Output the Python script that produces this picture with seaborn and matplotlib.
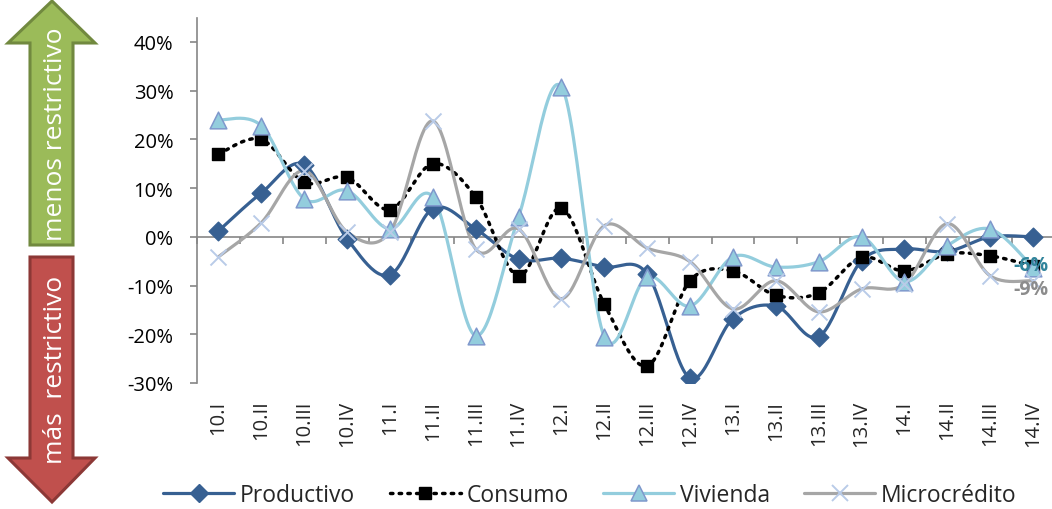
import numpy as np
import pandas as pd
import matplotlib
matplotlib.use("Agg")
import matplotlib.pyplot as plt
from matplotlib.patches import Polygon
from matplotlib.lines import Line2D
from matplotlib.ticker import PercentFormatter
import seaborn as sns

# ---- data (percent) ----
categories = ['10.I', '10.II', '10.III', '10.IV', '11.I', '11.II', '11.III', '11.IV',
              '12.I', '12.II', '12.III', '12.IV', '13.I', '13.II', '13.III', '13.IV',
              '14.I', '14.II', '14.III', '14.IV']
productivo = [1.2, 9.0, 14.8, -0.4, -7.8, 5.8, 1.6, -4.6, -4.4, -6.2, -7.6, -29.0,
              -16.8, -14.2, -20.5, -4.9, -2.5, -3.0, 0.0, 0.0]
consumo = [17.0, 20.0, 11.2, 12.2, 5.6, 15.0, 8.2, -8.0, 5.9, -13.8, -26.5, -9.0,
           -7.0, -12.0, -11.5, -4.2, -7.0, -3.5, -3.9, -6.0]
vivienda = [24.0, 22.8, 7.8, 9.5, 1.6, 8.2, -20.3, 4.1, 30.8, -20.5, -8.2, -14.2,
            -4.1, -6.2, -5.1, 0.0, -9.2, -1.8, 1.6, -6.3]
microcredito = [-4.1, 2.9, 13.6, 1.0, 1.0, 23.8, -2.5, 1.6, -12.7, 2.3, -2.3, -5.1,
                -14.8, -9.0, -15.4, -10.7, -9.7, 2.7, -8.0, -9.0]
series_names = ['Productivo', 'Consumo', 'Vivienda', 'Microcrédito']
yticks = [-30, -20, -10, 0, 10, 20, 30, 40]

sns.set_theme(style="white")
plt.rcParams['font.family'] = ['Open Sans', 'DejaVu Sans']
plt.rcParams['axes.unicode_minus'] = False

W, H = 1052, 510
fig = plt.figure(figsize=(W / 100, H / 100), dpi=100)
ax = fig.add_axes([197 / W, 1 - 384 / H, (1054.5 - 197) / W, (384 - 18.6) / H])

GRAY = '#868686'


def smooth(y):
    """Excel-like smoothed (Catmull-Rom / Bezier) curve through the points."""
    y = np.asarray(y, float)
    n = len(y)
    x = np.arange(n, dtype=float)
    P = np.column_stack([x, y])
    t = np.linspace(0, 1, 25, endpoint=False)[:, None]
    out = []
    for i in range(n - 1):
        p0 = P[max(i - 1, 0)]
        p1 = P[i]
        p2 = P[i + 1]
        p3 = P[min(i + 2, n - 1)]
        c1 = p1 + (p2 - p0) / 6
        c2 = p2 - (p3 - p1) / 6
        b = ((1 - t) ** 3) * p1 + 3 * ((1 - t) ** 2) * t * c1 + 3 * (1 - t) * t ** 2 * c2 + t ** 3 * p2
        out.append(b)
    out.append(P[-1:])
    out = np.vstack(out)
    return out[:, 0], out[:, 1]


styles = {
    'Productivo': dict(data=productivo, color='#376092', ls='-', lw=2.3,
                       marker='D', ms=9.5, mfc='#376092', mec='#376092', mew=1),
    'Consumo': dict(data=consumo, color='black', ls=(0, (0.7, 1.8)), lw=2.5,
                    marker='s', ms=8, mfc='black', mec='black', mew=1),
    'Vivienda': dict(data=vivienda, color='#93CDDD', ls='-', lw=2.3,
                     marker='^', ms=12, mfc='#93CDDD', mec='#7F98CC', mew=1.1),
    'Microcrédito': dict(data=microcredito, color='#A6A6A6', ls='-', lw=2.3,
                         marker='x', ms=11.5, mfc='#B9CBE8', mec='#B9CBE8', mew=1.4),
}

xpos = np.arange(len(categories))
handles = []
for z, name in enumerate(series_names):
    st = styles[name]
    vals = np.array(st['data']) / 100.0
    sx, sy = smooth(vals)
    sns.lineplot(x=sx, y=sy, ax=ax, color=st['color'], linewidth=st['lw'],
                 linestyle=st['ls'], estimator=None, sort=False, zorder=4 + z,
                 dash_capstyle='round')
    mk = dict(marker=st['marker'], s=st['ms'] ** 2, linewidth=st['mew'],
              zorder=10 + z)
    if st['marker'] == 'x':
        sns.scatterplot(x=xpos, y=vals, ax=ax, color=st['mec'], **mk)
    else:
        sns.scatterplot(x=xpos, y=vals, ax=ax, color=st['mfc'], edgecolor=st['mec'], **mk)
    handles.append(Line2D([], [], color=st['color'], lw=st['lw'], ls=st['ls'],
                          marker=st['marker'], ms=st['ms'], mfc=st['mfc'],
                          mec=st['mec'], mew=st['mew'], dash_capstyle='round'))

# data labels on last points
ax.annotate('-6%', xy=(xpos[-1], vivienda[-1] / 100), xytext=(11, 2),
            textcoords='offset points', ha='right', va='center',
            fontsize=14, fontweight='bold', color='#31849B', zorder=20)
ax.annotate('-9%', xy=(xpos[-1], microcredito[-1] / 100), xytext=(11, -6),
            textcoords='offset points', ha='right', va='center',
            fontsize=14, fontweight='bold', color='#8C8C8C', zorder=20)

# axes styling
ax.set_xlim(-0.5, 19.5)
ax.set_ylim(-0.30, 0.45)
ax.set_yticks(np.array(yticks) / 100)
ax.yaxis.set_major_formatter(PercentFormatter(1.0, decimals=0))
for s in ['top', 'right']:
    ax.spines[s].set_visible(False)
ax.spines['left'].set_color(GRAY)
ax.spines['left'].set_linewidth(1.2)
ax.spines['bottom'].set_position(('data', 0))
ax.spines['bottom'].set_color(GRAY)
ax.spines['bottom'].set_linewidth(1.2)
ax.spines['bottom'].set_zorder(3)
ax.set_xticks(np.arange(-0.5, 20, 1))
ax.set_xticklabels([])
ax.tick_params(axis='x', direction='out', length=5, width=1.2, color=GRAY, bottom=True)
ax.tick_params(axis='y', direction='out', length=5, width=1.2, color=GRAY, left=True,
               labelsize=14.5, pad=12, labelcolor='black')
ax.set_xlabel('')
ax.set_ylabel('')
ax.grid(False)

# category labels at the bottom
ax2 = ax.twiny()
ax2.set_xlim(ax.get_xlim())
ax2.xaxis.set_ticks_position('bottom')
ax2.xaxis.set_label_position('bottom')
ax2.set_xticks(xpos)
ax2.set_xticklabels(categories, rotation=90, fontsize=14.5)
ax2.tick_params(axis='x', length=0, pad=12)
for s in ax2.spines.values():
    s.set_visible(False)
ax2.grid(False)

# legend
fig.legend(handles, series_names, loc='center', bbox_to_anchor=(590 / W, 1 - 496 / H),
           ncol=4, frameon=False, fontsize=16.5, handlelength=3.1, handletextpad=0.25,
           columnspacing=1.5, numpoints=1)


# left arrows
def px(pts):
    return [(x / W, 1 - y / H) for x, y in pts]


green = Polygon(px([(52, 2), (95, 44), (73, 44), (73, 246), (30, 246), (30, 44), (8, 44)]),
                closed=True, facecolor='#9BBB59', edgecolor='#71893F', linewidth=2.2,
                transform=fig.transFigure, joinstyle='miter')
red = Polygon(px([(30, 258), (73, 258), (73, 459), (95, 459), (52, 503), (8, 459), (30, 459)]),
              closed=True, facecolor='#C0504D', edgecolor='#8C3836', linewidth=2.2,
              transform=fig.transFigure, joinstyle='miter')
fig.add_artist(green)
fig.add_artist(red)
fig.text(56 / W, 1 - 134 / H, 'menos restrictivo', rotation=90, color='white',
         fontsize=19, ha='center', va='center')
fig.text(56 / W, 1 - 370 / H, 'más  restrictivo', rotation=90, color='white',
         fontsize=19, ha='center', va='center')

fig.savefig('out.png', dpi=100)
